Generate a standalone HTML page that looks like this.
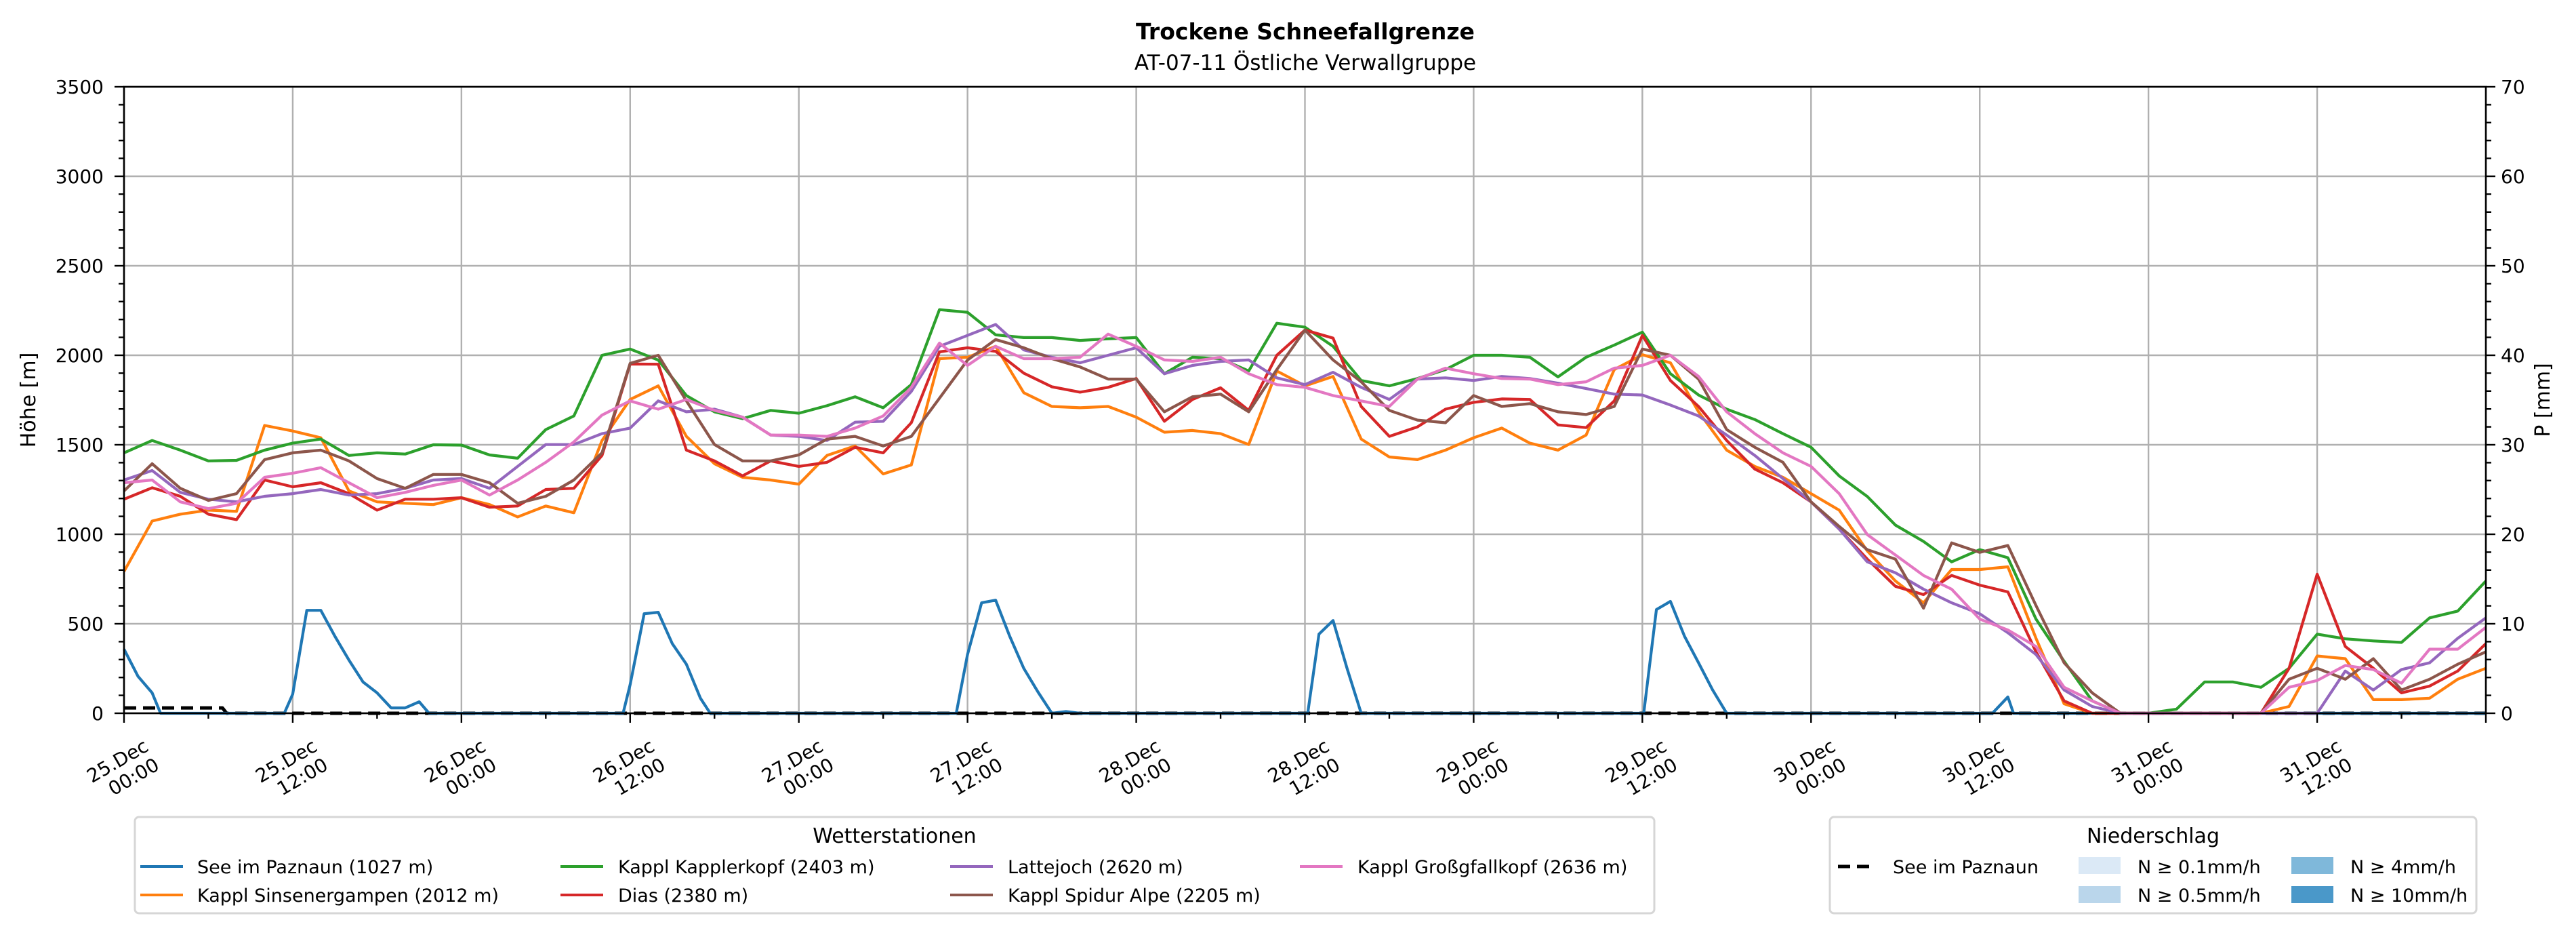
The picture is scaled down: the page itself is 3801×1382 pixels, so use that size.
<!DOCTYPE html>
<html><head><meta charset="utf-8"><style>
html,body{margin:0;padding:0;background:#fff}
svg text{font-family:"DejaVu Sans","Liberation Sans",sans-serif;fill:#000}
</style></head><body>
<svg id="chart" width="3801" height="1377" viewBox="0 0 3801 1377" xmlns="http://www.w3.org/2000/svg">
<text x="1926" y="58" font-size="33" font-weight="bold" text-anchor="middle">Trockene Schneefallgrenze</text>
<text x="1926" y="103" font-size="31" text-anchor="middle">AT-07-11 Östliche Verwallgruppe</text>
<g id="grid"></g>
<g id="series"></g>
<g id="axes"></g>
<text transform="translate(52,590) rotate(-90)" font-size="30" text-anchor="middle">Höhe [m]</text>
<text transform="translate(3762,590) rotate(-90)" font-size="30" text-anchor="middle">P [mm]</text>

<g>
<rect x="199" y="1205" width="2242" height="142" rx="6" fill="#fff" stroke="#d6d6d6" stroke-width="3"/>
<text x="1320" y="1243" font-size="30" text-anchor="middle">Wetterstationen</text>
<g><line x1="207" y1="1278" x2="270" y2="1278" stroke="#1f77b4" stroke-width="4"/><text x="291" y="1288" font-size="27">See im Paznaun (1027 m)</text></g>
<g><line x1="207" y1="1320" x2="270" y2="1320" stroke="#ff7f0e" stroke-width="4"/><text x="291" y="1330" font-size="27">Kappl Sinsenergampen (2012 m)</text></g>
<g><line x1="827" y1="1278" x2="890" y2="1278" stroke="#2ca02c" stroke-width="4"/><text x="912" y="1288" font-size="27">Kappl Kapplerkopf (2403 m)</text></g>
<g><line x1="827" y1="1320" x2="890" y2="1320" stroke="#d62728" stroke-width="4"/><text x="912" y="1330" font-size="27">Dias (2380 m)</text></g>
<g><line x1="1402" y1="1278" x2="1465" y2="1278" stroke="#9467bd" stroke-width="4"/><text x="1487" y="1288" font-size="27">Lattejoch (2620 m)</text></g>
<g><line x1="1402" y1="1320" x2="1465" y2="1320" stroke="#8c564b" stroke-width="4"/><text x="1487" y="1330" font-size="27">Kappl Spidur Alpe (2205 m)</text></g>
<g><line x1="1918" y1="1278" x2="1981" y2="1278" stroke="#e377c2" stroke-width="4"/><text x="2003" y="1288" font-size="27">Kappl Großgfallkopf (2636 m)</text></g>
</g>

<g>
<rect x="2700" y="1205" width="954" height="142" rx="6" fill="#fff" stroke="#d6d6d6" stroke-width="3"/>
<text x="3177" y="1243" font-size="30" text-anchor="middle">Niederschlag</text>
<g><line x1="2712" y1="1278" x2="2767" y2="1278" stroke="#000" stroke-width="5" stroke-dasharray="18 10"/><text x="2793" y="1288" font-size="27">See im Paznaun</text></g>
<g><rect x="3067" y="1264" width="62" height="25" fill="#dbe9f6"/><text x="3154" y="1288" font-size="27">N ≥ 0.1mm/h</text></g>
<g><rect x="3067" y="1307" width="62" height="25" fill="#bad6eb"/><text x="3154" y="1330" font-size="27">N ≥ 0.5mm/h</text></g>
<g><rect x="3381" y="1264" width="62" height="25" fill="#7fb8da"/><text x="3468" y="1288" font-size="27">N ≥ 4mm/h</text></g>
<g><rect x="3381" y="1307" width="62" height="25" fill="#4a98c9"/><text x="3468" y="1330" font-size="27">N ≥ 10mm/h</text></g>
</g>
</svg>
<script>
// ---- data (2-hourly, hours since 25.Dec 00:00) ----
const hourStep = 2;
const yTicks = [0,500,1000,1500,2000,2500,3000,3500];
const y2Ticks = [0,10,20,30,40,50,60,70];
const xTickLabels = [["25.Dec","00:00"],["25.Dec","12:00"],["26.Dec","00:00"],["26.Dec","12:00"],["27.Dec","00:00"],["27.Dec","12:00"],["28.Dec","00:00"],["28.Dec","12:00"],["29.Dec","00:00"],["29.Dec","12:00"],["30.Dec","00:00"],["30.Dec","12:00"],["31.Dec","00:00"],["31.Dec","12:00"]];
const kapplerkopf = [1455,1524,1470,1410,1413,1470,1509,1532,1440,1455,1448,1500,1498,1443,1425,1585,1661,2000,2035,1973,1775,
1684,1646,1692,1676,1718,1768,1707,1836,2255,2240,2114,2099,2099,2083,2092,2099,1897,1989,1981,1912,2179,
2157,2050,1859,1829,1870,1920,2000,2000,1989,1879,1989,2057,2129,1897,1778,1699,1641,1562,1486,1326,1211,
1051,960,846,914,869,526,290,69,0,0,23,175,175,145,251,442,416,404,396,533,571,739];
const sinsenergampen = [792,1074,1112,1135,1128,1608,1577,1539,1242,1181,1173,1166,1204,1166,1097,1158,1120,1524,1753,1829,1547,
1394,1318,1303,1280,1440,1493,1337,1387,1981,1989,2050,1791,1714,1707,1714,1654,1570,1580,1562,1501,1912,
1829,1882,1532,1432,1417,1470,1539,1593,1509,1470,1554,1920,2003,1958,1684,1470,1379,1318,1227,1135,907,
739,617,803,803,818,419,53,0,0,0,0,0,0,0,38,320,305,76,76,84,190,251];
const dias = [1196,1260,1212,1112,1082,1303,1265,1288,1227,1135,1196,1196,1204,1151,1158,1250,1257,1440,1951,1950,1470,
1410,1326,1410,1379,1402,1486,1455,1623,2019,2042,2022,1900,1824,1794,1821,1870,1631,1753,1818,1692,2000,
2141,2096,1714,1547,1600,1699,1737,1756,1753,1611,1596,1745,2111,1859,1714,1524,1364,1288,1181,1029,861,
709,663,770,716,678,343,69,0,0,0,0,0,0,0,251,777,373,251,114,152,236,389];
const lattejoch = [1303,1356,1234,1196,1181,1212,1227,1250,1219,1227,1257,1303,1311,1257,1379,1501,1501,1562,1593,1745,1684,
1699,1654,1554,1547,1524,1626,1631,1798,2050,2111,2172,2030,1989,1958,2000,2042,1897,1943,1966,1974,1874,
1836,1905,1821,1753,1867,1874,1859,1882,1870,1844,1814,1783,1778,1722,1661,1554,1440,1311,1181,1029,846,
785,693,617,556,450,328,130,38,0,0,0,0,0,0,0,0,236,130,244,282,419,533];
const spidurAlpe = [1242,1394,1257,1189,1227,1417,1455,1470,1410,1311,1257,1334,1334,1288,1173,1212,1303,1455,1955,2000,1745,
1501,1410,1410,1443,1532,1547,1493,1547,1760,1973,2088,2042,1981,1935,1867,1867,1684,1768,1783,1684,1920,
2141,1974,1852,1692,1638,1623,1775,1714,1730,1684,1669,1714,2035,2000,1867,1585,1486,1402,1181,1044,914,
861,587,952,899,937,602,282,114,0,0,0,0,0,0,190,251,190,305,130,190,274,343];
const grossgfallkopf = [1288,1303,1181,1143,1173,1318,1341,1372,1288,1204,1234,1273,1303,1219,1303,1402,1516,1666,1745,1699,1753,
1692,1654,1554,1554,1547,1593,1661,1821,2068,1943,2050,1981,1981,1989,2118,2050,1974,1966,1989,1897,1836,
1821,1775,1745,1714,1867,1928,1897,1870,1867,1836,1852,1928,1943,2000,1882,1684,1562,1455,1379,1227,998,
884,770,693,526,465,373,145,69,0,0,0,0,0,0,145,183,267,244,168,358,358,480];
const seeHours = [0,1,2,2.6,11.4,12,13,14,15,16,17,18,19,20,21,21.7,35.5,36,37,38,39,40,41,41.7,59.2,60,61,62,63,64,65,66,67,68,84.2,85,86,87,88,108.1,109,110,111,112,113,114,132.9,134,134.4,168];
const seeValues = [358,206,114,0,0,107,575,575,430,297,175,114,30,30,64,0,0,160,556,564,389,274,84,0,0,328,617,632,430,251,120,0,10,0,0,442,518,250,0,0,579,625,430,282,130,0,0,91,0,0];
const precipHours = [0,7,7.3,168];
const precipValues = [0.6,0.6,0,0];

// ---- axis functions ----
const L=183,R=3668,T=128,B=1052;
const X=t=>L+t*(R-L)/168;
const Y=m=>B-m*(B-T)/3500;
const YP=p=>B-p*(B-T)/70;
const NS='http://www.w3.org/2000/svg';
function mk(tag,attrs,parent){const e=document.createElementNS(NS,tag);for(const k in attrs)e.setAttribute(k,attrs[k]);parent.appendChild(e);return e;}
const grid=document.getElementById('grid'),axes=document.getElementById('axes'),ser=document.getElementById('series');

for(let i=0;i<xTickLabels.length;i++){
  const x=X(i*12);
  const g=mk('line',{x1:x,y1:T,x2:x,y2:B,stroke:'#b0b0b0','stroke-width':2.4},grid);
  
  
}
yTicks.forEach(v=>{
  const y=Y(v);
  const g=mk('line',{x1:L,y1:y,x2:R,y2:y,stroke:'#b0b0b0','stroke-width':2.4},grid);
  
  
});

function drawLine(xs,vals,color,name,scale,dash){
  const pts=vals.map((v,i)=>X(xs(i)).toFixed(1)+','+scale(v).toFixed(1)).join(' ');
  const p=mk('polyline',{points:pts,fill:'none',stroke:color,'stroke-width':dash?5:4.2,'stroke-linejoin':'round'},ser);
  if(dash)p.setAttribute('stroke-dasharray','18 10');
  
  
}
const step=i=>i*hourStep;
drawLine(i=>precipHours[i],precipValues,'#000','precip-line',YP,true);
drawLine(i=>seeHours[i],seeValues,'#1f77b4','see-im-paznaun-line',Y);
drawLine(step,sinsenergampen,'#ff7f0e','sinsenergampen-line',Y);
drawLine(step,kapplerkopf,'#2ca02c','kapplerkopf-line',Y);
drawLine(step,dias,'#d62728','dias-line',Y);
drawLine(step,lattejoch,'#9467bd','lattejoch-line',Y);
drawLine(step,spidurAlpe,'#8c564b','spidur-alpe-line',Y);
drawLine(step,grossgfallkopf,'#e377c2','grossgfallkopf-line',Y);

const fr=mk('rect',{x:L,y:T,width:R-L,height:B-T,fill:'none',stroke:'#000','stroke-width':2.6},axes);


for(let v=0;v<=3500;v+=100){
  const y=Y(v),maj=v%500===0;
  const t=mk('line',{x1:L-(maj?14:8),y1:y,x2:L,y2:y,stroke:'#000','stroke-width':2.4},axes);
  
  
}
yTicks.forEach(v=>{
  const t=mk('text',{x:153,y:Y(v)+10,'font-size':28,'text-anchor':'end'},axes);
  t.textContent=v;
  
  
});
for(let v=0;v<=70;v+=2){
  const y=YP(v),maj=v%10===0;
  const t=mk('line',{x1:R,y1:y,x2:R+(maj?14:8),y2:y,stroke:'#000','stroke-width':2.4},axes);
  
  
}
y2Ticks.forEach(v=>{
  const t=mk('text',{x:R+22,y:YP(v)+10,'font-size':28},axes);
  t.textContent=v;
  
  
});
for(let h=0;h<=168;h+=6){
  const x=X(h),maj=h%12===0;
  const t=mk('line',{x1:x,y1:B,x2:x,y2:B+(maj?14:8),stroke:'#000','stroke-width':2.4},axes);
  
  
}
xTickLabels.forEach((lab,i)=>{
  const x=X(i*12);
  const t=mk('text',{transform:'translate('+(x+38)+',1106) rotate(-30)','font-size':28,'text-anchor':'end'},axes);
  
  
  const a=mk('tspan',{x:0,y:0},t);a.textContent=lab[0];
  const b=mk('tspan',{x:0,y:32},t);b.textContent=lab[1];
});
</script>
</body></html>
